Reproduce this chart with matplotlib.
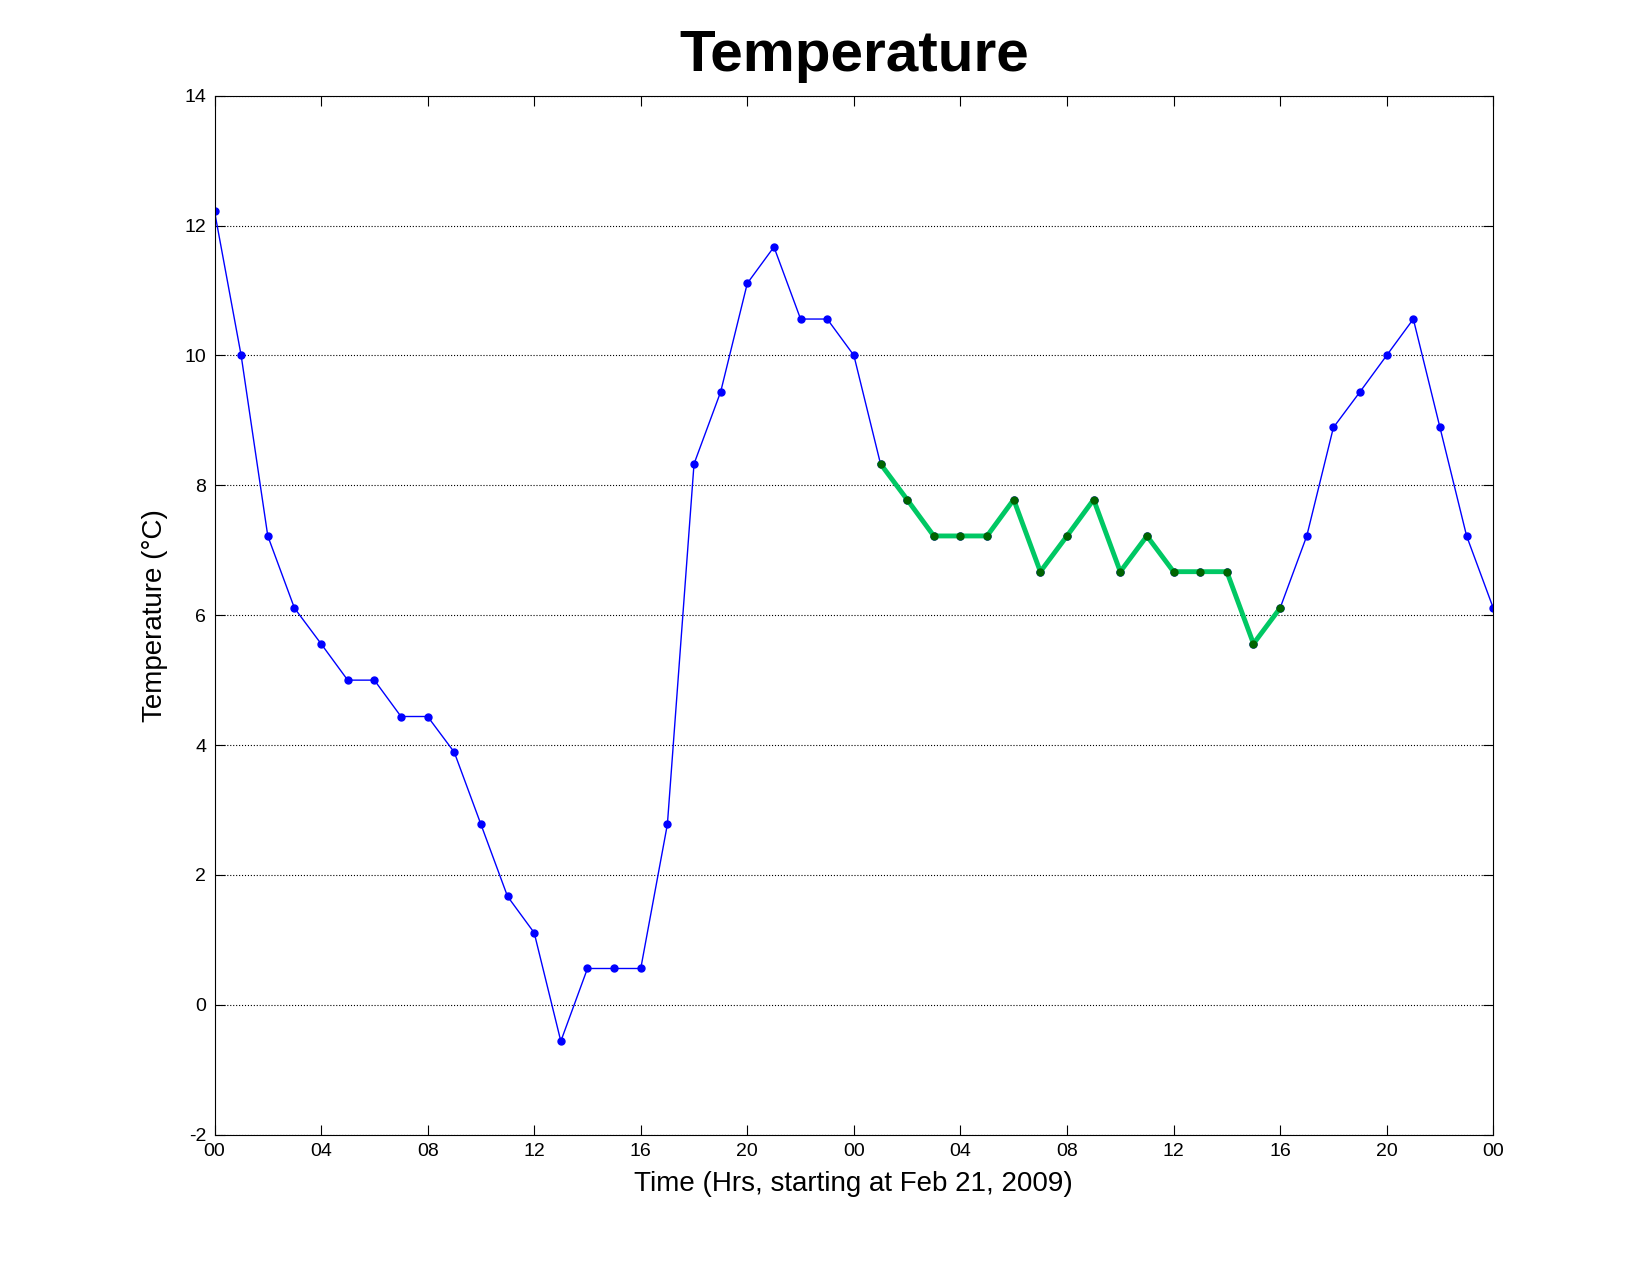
import matplotlib
matplotlib.use("Agg")
import matplotlib.pyplot as plt

plt.rcParams['font.family'] = ['Liberation Sans', 'DejaVu Sans']
plt.rcParams['axes.unicode_minus'] = False

# -------- Data -------- #
hours = list(range(49))
temps = [12.22, 10.0, 7.22, 6.11, 5.56, 5.0, 5.0, 4.44, 4.44, 3.89, 2.78, 1.67, 1.11,
         -0.56, 0.56, 0.56, 0.56, 2.78, 8.33, 9.44, 11.11, 11.67, 10.56, 10.56, 10.0,
         8.33, 7.78, 7.22, 7.22, 7.22, 7.78, 6.67, 7.22, 7.78, 6.67, 7.22, 6.67, 6.67,
         6.67, 5.56, 6.11, 7.22, 8.89, 9.44, 10.0, 10.56, 8.89, 7.22, 6.11]
hl_start, hl_end = 25, 40
tick_pos = list(range(0, 49, 4))
tick_labels = ['00', '04', '08', '12', '16', '20', '00', '04', '08', '12', '16', '20', '00']

# -------- Plot -------- #
fig = plt.figure(figsize=(16.5, 12.75), dpi=100)
ax = fig.add_axes([0.13, 0.11, 0.775, 0.815])

ax.plot(hours, temps, color='blue', linewidth=1, marker='o', markersize=5)
ax.plot(hours[hl_start:hl_end + 1], temps[hl_start:hl_end + 1], color='#00c864',
        linewidth=3.5, marker='o', markersize=5, markerfacecolor='#006400',
        markeredgecolor='#006400')

ax.set_xlim(0, 48)
ax.set_ylim(-2, 14)
ax.set_xticks(tick_pos)
ax.set_xticklabels(tick_labels)
ax.set_yticks(range(-2, 15, 2))
ax.tick_params(direction='in', top=True, right=True, labelsize=14, length=7, pad=6)
ax.yaxis.grid(True, linestyle=':', color='black', linewidth=0.8)

ax.set_title('Temperature', fontsize=42, fontweight='bold', pad=18)
ax.set_xlabel('Time (Hrs, starting at Feb 21, 2009)', fontsize=20, labelpad=8)
ax.set_ylabel('Temperature (°C)', fontsize=20, labelpad=12)

fig.savefig('out.png')
